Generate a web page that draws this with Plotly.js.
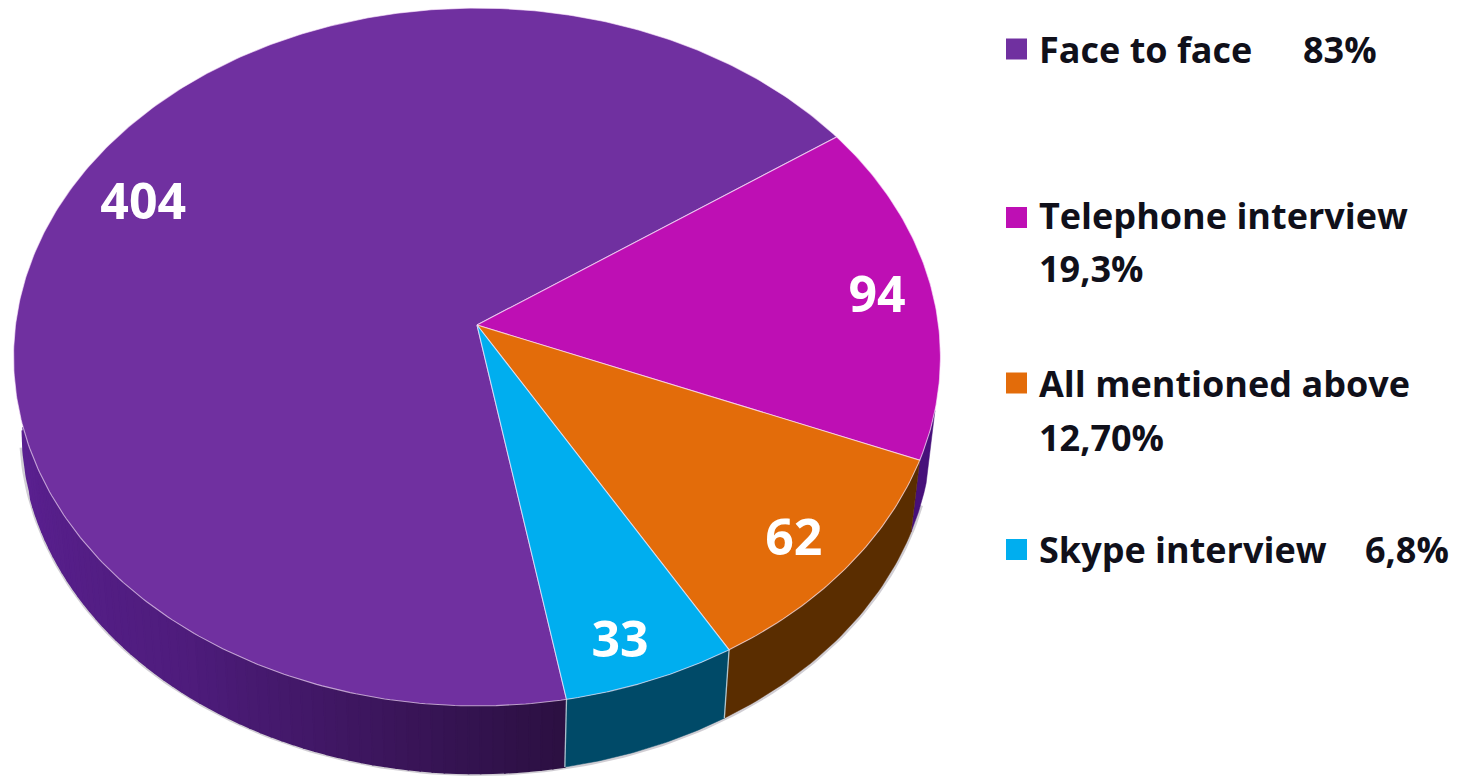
<!DOCTYPE html>
<html><head><meta charset="utf-8">
<script src="https://cdn.plot.ly/plotly-3.0.1.min.js"></script>
<style>html,body{margin:0;padding:0;background:#fff;overflow:hidden}#c{width:1471px;height:777px}</style>
</head><body><div id="c"></div>
<script>
const categories = ["Face to face","Telephone interview","All mentioned above","Skype interview"];
const counts = [404,94,62,33];
const shareText = ["83%","19,3%","12,70%","6,8%"];
const topColors = ["#7030A0","#BE0FB4","#E36C0A","#00AEEF"];
const wallColors = [null,"#47107A","#5A2D00","#004A68"];
const labelRadius = [0.833,0.878,0.873,0.889];
const labelShift = [-3.7,-0.7,-0.9,-1.4];

/* Perspective of the pie disc */
const W=1471,H=777, FONT='"Open Sans", "Noto Sans", sans-serif';
const A={x:477,y:325,c:461.5,a:346,p:0.0917};
const E1={x:476.5,y:357,rx:463.5,ry:349}, E2={x:476.5,y:430.5,rx:455,ry:343};
const startDeg=34.9;
const total=counts.reduce((s,v)=>s+v,0);
function disc(deg,r){const t=deg*Math.PI/180,u=r*Math.cos(t),v=r*Math.sin(t),d=1+A.p*v;
  return [A.x+A.c*u/d, A.y-A.a*v/d];}
function rimPhi(deg){const [X,Y]=disc(deg,1);return Math.atan2((Y-E1.y)/E1.ry,(X-E1.x)/E1.rx);}
function rimAt(ph){return [E2.x+E2.rx*Math.cos(ph),E2.y+E2.ry*Math.sin(ph)];}
function rim(deg){return rimAt(rimPhi(deg));}
function lerp(a,b,t){return a+(b-a)*t}
function poly(xs,color,line,width){return {type:'scatter',mode:'lines',x:xs.map(p=>p[0]),y:xs.map(p=>p[1]),
  fill:'toself',fillcolor:color,line:{color:line||color,width:width==null?1:width},hoverinfo:'skip',showlegend:false};}
function range(a,b,n){const o=[];for(let k=0;k<=n;k++)o.push(lerp(a,b,k/n));return o;}

/* slice angles: clockwise from the start, purple last */
let a0=startDeg; const spans=[];
[1,2,3,0].forEach(i=>{const sw=counts[i]/total*360;spans[i]=[a0,a0-sw];a0-=sw;});

const traces=[];
/* soft shadow under the wall */
const sh=range(0.22,Math.PI-0.05,160).map(t=>[E2.x+(E2.rx+1)*Math.cos(t),E2.y+(E2.ry+1)*Math.sin(t)]);
traces.push({type:'scatter',mode:'lines',x:sh.map(p=>p[0]),y:sh.map(p=>p[1]),line:{color:'rgba(90,80,100,0.28)',width:3},hoverinfo:'skip',showlegend:false});

/* purple wall: gradient strips */
const purpleWall=[[0.0,[0x5A,0x20,0x90]],[0.45,[0x4E,0x1C,0x7C]],[1,[0x2C,0x10,0x42]]];
function grad(t){let i=0;while(i<purpleWall.length-2&&t>purpleWall[i+1][0])i++;
  const [t0,c0]=purpleWall[i],[t1,c1]=purpleWall[i+1],f=(t-t0)/(t1-t0);
  return 'rgb('+c0.map((c,k)=>Math.round(lerp(c,c1[k],f))).join(',')+')';}
const leftDeg=-163.3, blueEnd=spans[3][1];
/* left tip of the wall, tucked under the top face */
{const ph0=rimPhi(leftDeg);
 const arc=range(Math.PI,ph0,14).map(rimAt);
 traces.push(poly(arc.concat([[A.x,A.y],arc[0]]),grad(0),grad(0),0));}
const N=60;
for(let k=0;k<N;k++){
  const a=lerp(leftDeg,blueEnd,k/N), b=lerp(leftDeg,blueEnd,(k+1)/N);
  const c=grad(k/(N-1));
  traces.push(poly([disc(a,1),disc(b,1),rim(b),rim(a),disc(a,1)],c,c,1.6));
}
/* other walls */
[1,2,3].forEach(i=>{
  let [a,b]=spans[i];
  if(i===1){a=-14;}
  const as=range(a,b,40);
  const pts=as.map(d=>disc(d,1)).concat(as.slice().reverse().map(rim));
  traces.push(poly(pts.concat([pts[0]]),wallColors[i],wallColors[i],0.5));
});
/* light wall seams */
[spans[3][1],spans[3][0]].forEach(d=>{const p=disc(d,1),q=rim(d);
  traces.push({type:'scatter',mode:'lines',x:[p[0],q[0]],y:[p[1],q[1]],line:{color:'rgba(225,235,240,0.75)',width:1.3},hoverinfo:'skip',showlegend:false});});

/* top faces */
[0,1,2,3].forEach(i=>{
  const [a,b]=spans[i];
  const as=range(a,b,Math.max(60,Math.round(Math.abs(a-b)*1.5)));
  const pts=[[A.x,A.y]].concat(as.map(d=>disc(d,1)));pts.push([A.x,A.y]);
  traces.push(poly(pts,topColors[i],'rgba(255,235,255,0.62)',1.1));
});

/* value labels at the slice mid angles */
const lx=[],ly=[];
counts.forEach((v,i)=>{const m=(spans[i][0]+spans[i][1])/2+labelShift[i];
  const p=disc(m,labelRadius[i]);lx.push(p[0]);ly.push(p[1]+4);});
traces.push({type:'scatter',mode:'text',x:lx,y:ly,text:counts.map(String),textposition:'middle center',
  textfont:{family:FONT,size:50,color:'#fff',weight:700},hoverinfo:'skip',showlegend:false});

/* legend */
const legendY=[49,217.5,383,549.5];
traces.push({type:'scatter',mode:'markers',x:categories.map(()=>1016.5),y:legendY,
  marker:{symbol:'square',size:21,color:topColors,line:{width:0}},hoverinfo:'skip',showlegend:false});
const legendText=[
 [categories[0],1040,49],[shareText[0],1304,49],
 [categories[1],1040,215],[shareText[1],1040,268],
 [categories[2],1040,383],[shareText[2],1040,437],
 [categories[3],1040,549],[shareText[3],1366,549]];
const annotations=legendText.map(([t,x,y])=>({text:t,x,y,xref:'x',yref:'y',xanchor:'left',yanchor:'middle',showarrow:false,
  xshift:-3,font:{family:FONT,size:36,color:'#10101a',weight:700}}));

Plotly.newPlot('c',traces,{width:W,height:H,margin:{l:0,r:0,t:0,b:0},paper_bgcolor:'#fff',plot_bgcolor:'#fff',showlegend:false,
  xaxis:{range:[0,W],visible:false,fixedrange:true},yaxis:{range:[H,0],visible:false,fixedrange:true},annotations},
  {displayModeBar:false,staticPlot:true});
</script></body></html>
